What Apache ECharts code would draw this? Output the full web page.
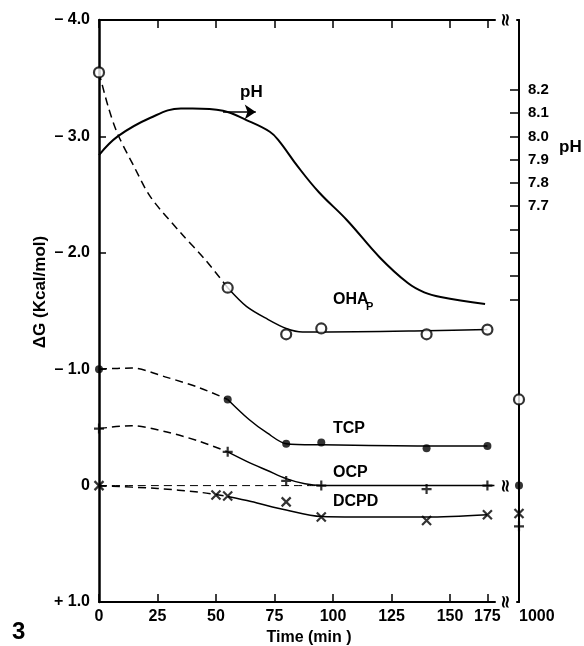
<!DOCTYPE html>
<html>
<head>
<meta charset="utf-8">
<script src="https://cdn.jsdelivr.net/npm/echarts@6/dist/echarts.min.js"></script>
<style>html,body{margin:0;padding:0;background:#fff}</style>
</head>
<body>
<div id="chart" style="width:584px;height:646px;"></div>
<script>
// measured points, time in min (1000 is past the axis break)
var times = [0, 55, 80, 95, 140, 175, 1000];
var ohapPts = [-3.55, -1.70, -1.30, -1.35, -1.30, -1.34, -0.74];
var tcpPts = [-1.00, -0.74, -0.36, -0.37, -0.32, -0.34, 0.00];
var ocpPts = [-0.49, -0.29, -0.04, 0.00, 0.03, 0.00, 0.35];
var dcpdTimes = [0, 50, 55, 80, 95, 140, 175, 1000];
var dcpdPts = [0.00, 0.08, 0.09, 0.14, 0.27, 0.30, 0.25, 0.24];

// drawn curves [time, dG]
var ohapDash = [[0, -3.55], [4, -3.25], [8, -3.02], [15, -2.74], [22, -2.48], [35, -2.17], [45, -1.95], [55, -1.70]];
var ohapLine = [[55, -1.70], [63, -1.54], [72, -1.43], [80, -1.35], [87, -1.32], [95, -1.32], [140, -1.33], [175, -1.34]];
var tcpDash = [[0, -1.0], [14, -1.01], [29, -0.93], [43, -0.84], [55, -0.74]];
var tcpLine = [[55, -0.74], [64, -0.57], [72, -0.45], [80, -0.36], [95, -0.35], [140, -0.34], [175, -0.34]];
var ocpDash = [[0, -0.49], [14, -0.515], [29, -0.46], [43, -0.38], [55, -0.29]];
var ocpLine = [[55, -0.29], [64, -0.20], [72, -0.13], [80, -0.06], [88, -0.015], [95, 0], [140, 0], [178, 0]];
var zeroDash = [[0, 0], [95, 0]];
var dcpdDash = [[0, 0], [25, 0.025], [43, 0.057], [55, 0.094]];
var dcpdLine = [[55, 0.094], [65, 0.137], [80, 0.21], [95, 0.266], [110, 0.27], [140, 0.27], [175, 0.25]];

// pH curve
var phTimes = [0, 8, 22, 35, 40, 53, 63, 73, 77, 85, 94, 106, 120, 132, 139, 146, 174];
var phValues = [7.92, 8.00, 8.08, 8.12, 8.12, 8.11, 8.07, 8.02, 7.98, 7.87, 7.76, 7.64, 7.48, 7.37, 7.33, 7.31, 7.28];

var timeTicks = [0, 25, 50, 75, 100, 125, 150, 175];
var timeLabels = [0, 25, 50, 75, 100, 125, 150, 175, 1000];
var phTicks = [7.3, 7.4, 7.5, 7.6, 7.7, 7.8, 7.9, 8.0, 8.1, 8.2];
var phLabels = [7.7, 7.8, 7.9, 8.0, 8.1, 8.2];

var FONT = 'Liberation Sans';

function pairs(xs, ys) {
  return xs.map(function (x, i) { return [x, ys[i]]; });
}

function timeAxis(pos) {
  return {
    type: 'value',
    position: pos,
    min: 0,
    max: 1000,
    // 150-175 is drawn a little short in the figure, and 178-999 is cut
    breaks: [{ start: 155, end: 164, gap: 0 }, { start: 178, end: 999, gap: 9.5 }],
    breakArea: { show: false, itemStyle: { opacity: 0 } },
    axisLine: { onZero: false, lineStyle: { color: '#000', width: 2 } },
    axisTick: { inside: true, length: 8, customValues: timeTicks, lineStyle: { color: '#000', width: 1.5 } },
    axisLabel: {
      show: pos === 'bottom',
      customValues: timeLabels,
      alignMaxLabel: 'left',
      margin: 7,
      color: '#000',
      fontFamily: FONT,
      fontWeight: 'bold',
      fontSize: 16,
      formatter: function (v) { return String(v); }
    },
    splitLine: { show: false },
    name: pos === 'bottom' ? 'Time (min )' : '',
    nameLocation: 'middle',
    nameGap: 28,
    nameTextStyle: { color: '#000', fontFamily: FONT, fontWeight: 'bold', fontSize: 16 }
  };
}

function curve(data, dashed, width) {
  return {
    type: 'line',
    data: data,
    smooth: 0.3,
    showSymbol: false,
    silent: true,
    lineStyle: { color: '#000', width: width || 1.5, type: dashed ? [8, 5] : 'solid' },
    z: 3
  };
}

function points(xs, ys, symbol, size, filled) {
  return {
    type: 'scatter',
    data: pairs(xs, ys),
    symbol: symbol,
    symbolSize: size,
    clip: false,
    itemStyle: {
      color: filled ? '#000' : (symbol === 'circle' ? '#fff' : 'transparent'),
      borderColor: '#000',
      borderWidth: filled ? 0 : 2.2
    },
    z: 5
  };
}

var plusPath = 'path://M0,-5L0,5M-5,0L5,0';
var crossPath = 'path://M-4,-4L4,4M-4,4L4,-4';

function txt(x, y, s, size, extra) {
  var st = { text: s, fill: '#000', font: 'bold ' + size + 'px "' + FONT + '"' };
  if (extra) for (var k in extra) st[k] = extra[k];
  return { type: 'text', x: x, y: y, z: 100, style: st };
}

function squiggle(x, y) {
  return [
    { type: 'rect', x: x - 7, y: y - 5, z: 90, shape: { width: 14, height: 10 }, style: { fill: '#fff' } },
    { type: 'text', x: x, y: y, z: 100, rotation: Math.PI / 2,
      style: { text: '\u2248', fill: '#000', font: 'bold 18px "DejaVu Sans"', align: 'center', verticalAlign: 'middle' } }
  ];
}

var chart = echarts.init(document.getElementById('chart'), null, { renderer: 'canvas' });

var option = {
  backgroundColor: '#fff',
  animation: false,
  grid: { left: 99, top: 20, width: 420, height: 582, outerBoundsMode: 'none', containLabel: false },
  xAxis: [timeAxis('bottom'), timeAxis('top')],
  yAxis: [
    {
      type: 'value',
      inverse: true,
      min: -4,
      max: 1,
      interval: 1,
      axisLine: { show: true, onZero: false, lineStyle: { color: '#000', width: 2.5 } },
      axisTick: { inside: true, length: 7, lineStyle: { color: '#000', width: 1.5 } },
      axisLabel: {
        margin: 9,
        color: '#000',
        fontFamily: FONT,
        fontWeight: 'bold',
        fontSize: 16,
        formatter: function (v) {
          if (v === 0) return '0';
          return (v < 0 ? '\u2013 ' : '+ ') + Math.abs(v).toFixed(1);
        }
      },
      splitLine: { show: false }
    },
    {
      type: 'value',
      position: 'right',
      min: 6,
      max: 8.5,
      interval: 0.1,
      axisLine: { show: true, onZero: false, lineStyle: { color: '#000', width: 2 } },
      axisTick: { inside: true, length: 9, customValues: phTicks, lineStyle: { color: '#000', width: 1.5 } },
      axisLabel: {
        customValues: phLabels,
        margin: 9,
        color: '#000',
        fontFamily: FONT,
        fontWeight: 'bold',
        fontSize: 15,
        formatter: function (v) { return v.toFixed(1); }
      },
      splitLine: { show: false }
    }
  ],
  series: [
    {
      type: 'line',
      yAxisIndex: 1,
      data: pairs(phTimes, phValues),
      smooth: 0.4,
      showSymbol: false,
      silent: true,
      lineStyle: { color: '#000', width: 2 },
      markLine: {
        silent: true,
        symbol: ['none', 'arrow'],
        symbolSize: 11,
        label: { show: false },
        lineStyle: { color: '#000', width: 1.5, type: 'solid' },
        data: [[{ coord: [53, 8.105] }, { coord: [67, 8.105] }]]
      }
    },
    curve(ohapDash, true),
    curve(ohapLine, false),
    curve(tcpDash, true),
    curve(tcpLine, false),
    curve(ocpDash, true),
    curve(ocpLine, false),
    curve(zeroDash, true, 1),
    curve(dcpdDash, true),
    curve(dcpdLine, false),
    points(times, ohapPts, 'circle', 10, false),
    points(times, tcpPts, 'circle', 8, true),
    points(times, ocpPts, plusPath, 10, false),
    points(dcpdTimes, dcpdPts, crossPath, 9, false)
  ],
  graphic: [
    txt(240, 84, 'pH', 17),
    txt(333, 292, 'OHA', 16),
    txt(366, 301, 'P', 11),
    txt(333, 421, 'TCP', 16),
    txt(333, 465, 'OCP', 16),
    txt(333, 494, 'DCPD', 16),
    txt(559, 139, 'pH', 17),
    txt(12, 620, '3', 24),
    txt(40, 292, '\u0394G (Kcal/mol)', 17, { align: 'center', verticalAlign: 'middle' })
  ].concat(squiggle(506, 20), squiggle(506, 602), squiggle(506, 486))
};
// rotate the left axis title
option.graphic[8].rotation = Math.PI / 2;

chart.setOption(option);
</script>
</body>
</html>
